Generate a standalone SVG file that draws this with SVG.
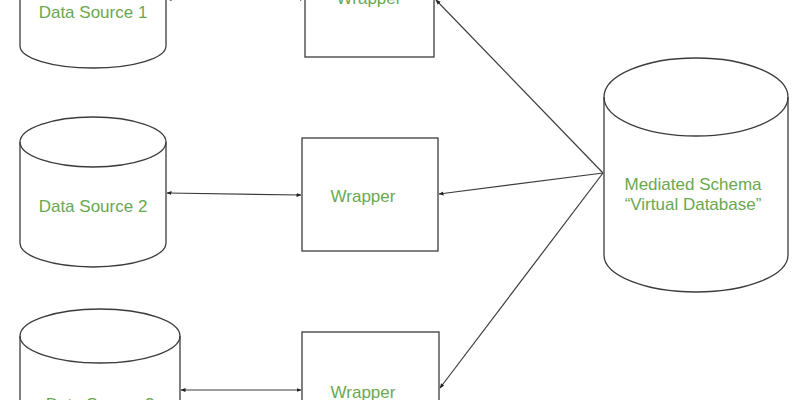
<svg xmlns="http://www.w3.org/2000/svg" width="800" height="400" viewBox="0 0 800 400">
<style>
.shape{fill:none;stroke:#3c3c3c;stroke-width:1.3}
.link{fill:none;stroke:#3c3c3c;stroke-width:1.2}
.lbl{font-family:"Liberation Sans",Arial,sans-serif;font-size:17px;fill:#6aa84f;text-anchor:middle}
</style>
<defs>
<marker id="ah" viewBox="0 0 10 10" refX="9" refY="5" markerWidth="5" markerHeight="5" orient="auto-start-reverse" markerUnits="userSpaceOnUse">
<path d="M0,1 L10,5 L0,9 Z" fill="#222"/>
</marker>
</defs>
<rect width="800" height="400" fill="#fff"/>
<g id="ds1">
<path class="shape" d="M20,-60 L20,46 A73,22 0 0 0 166,46 L166,-60"/>
<text class="lbl" x="93" y="18">Data Source 1</text>
</g>
<g id="ds2">
<ellipse class="shape" cx="93" cy="142" rx="73" ry="25"/>
<path class="shape" d="M20,142 L20,243 A73,24 0 0 0 166,243 L166,142"/>
<text class="lbl" x="93" y="212">Data Source 2</text>
</g>
<g id="ds3">
<ellipse class="shape" cx="100" cy="336" rx="80" ry="27"/>
<path class="shape" d="M20,336 L20,420 M180,336 L180,420"/>
<text class="lbl" x="100" y="410">Data Source 3</text>
</g>
<g id="w1">
<rect class="shape" x="305" y="-56" width="129" height="113"/>
<text class="lbl" x="369" y="4">Wrapper</text>
</g>
<g id="w2">
<rect class="shape" x="302" y="138" width="136" height="113"/>
<text class="lbl" x="363" y="202">Wrapper</text>
</g>
<g id="w3">
<rect class="shape" x="302" y="332" width="137" height="113"/>
<text class="lbl" x="363" y="398">Wrapper</text>
</g>
<g id="mediated">
<ellipse class="shape" cx="696" cy="97" rx="92" ry="39"/>
<path class="shape" d="M604,97 L604,255 A92,37 0 0 0 788,255 L788,97"/>
<text class="lbl" x="693" y="190">Mediated Schema</text>
<text class="lbl" x="693" y="210">“Virtual Database”</text>
</g>
<g id="connectors">
<line class="link" x1="167" y1="-1" x2="304" y2="-1" marker-start="url(#ah)" marker-end="url(#ah)"/>
<line class="link" x1="167" y1="193" x2="301" y2="195" marker-start="url(#ah)" marker-end="url(#ah)"/>
<line class="link" x1="181" y1="390" x2="301" y2="390" marker-start="url(#ah)" marker-end="url(#ah)"/>
<line class="link" x1="603" y1="173" x2="436" y2="0" marker-end="url(#ah)"/>
<line class="link" x1="603" y1="173" x2="439" y2="194" marker-end="url(#ah)"/>
<line class="link" x1="603" y1="173" x2="440" y2="388" marker-end="url(#ah)"/>
</g>
</svg>
